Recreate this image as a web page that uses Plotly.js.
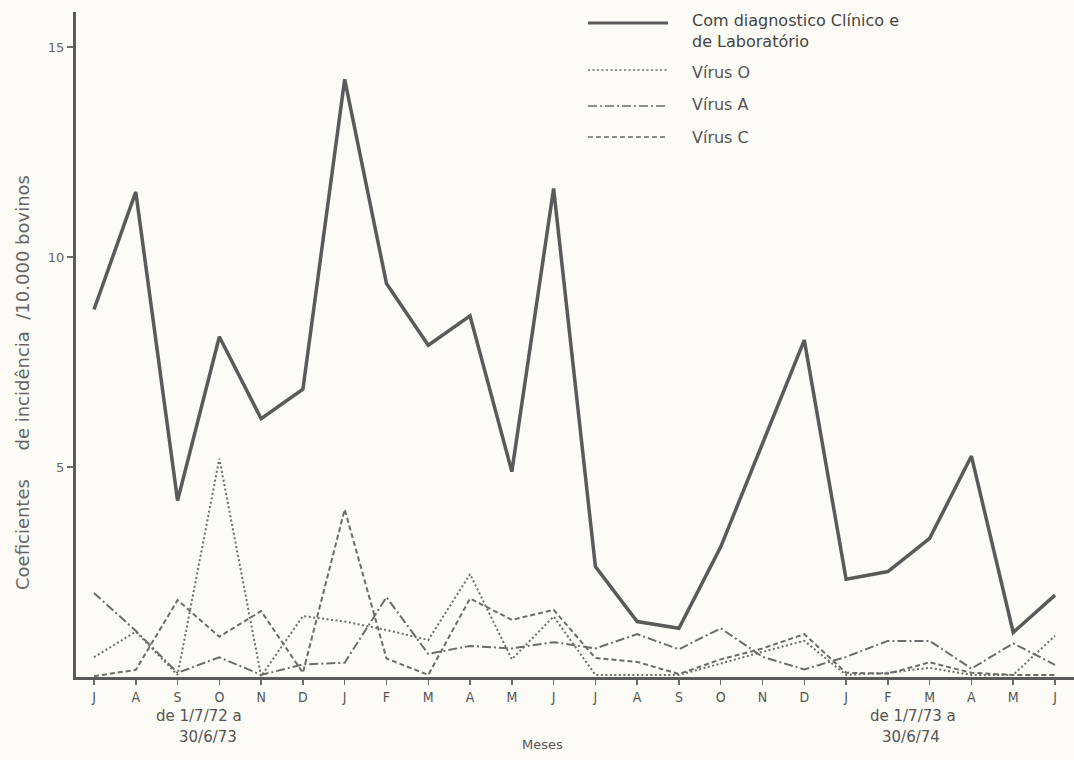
<!DOCTYPE html>
<html>
<head>
<meta charset="utf-8">
<script src="https://cdn.plot.ly/plotly-3.0.1.min.js"></script>
<style>html,body{margin:0;padding:0;background:#fcfbf6;}#chart{width:1074px;height:760px;}</style>
</head>
<body>
<div id="chart"></div>
<script>
// Months (1/7/72 to 30/6/74)
const months = ["J","A","S","O","N","D","J","F","M","A","M","J","J","A","S","O","N","D","J","F","M","A","M","J"];
// Coeficientes de incidência / 10.000 bovinos
const clinicoLab = [8.75, 11.55, 4.2, 8.1, 6.15, 6.85, 14.23, 9.37, 7.9, 8.6, 4.89, 11.63, 2.63, 1.32, 1.16, 3.1, 5.56, 8.02, 2.33, 2.51, 3.3, 5.26, 1.06, 1.95];
const virusO = [0.47, 1.08, 0.05, 5.2, 0.02, 1.45, 1.32, 1.12, 0.88, 2.45, 0.42, 1.44, 0.05, 0.05, 0.05, 0.32, 0.6, 0.86, 0.05, 0.1, 0.22, 0.05, 0.05, 0.98];
const virusA = [2.0, 1.1, 0.1, 0.47, 0.05, 0.3, 0.34, 1.9, 0.55, 0.74, 0.68, 0.83, 0.68, 1.02, 0.66, 1.16, 0.48, 0.18, 0.48, 0.86, 0.86, 0.2, 0.8, 0.29];
const virusC = [0.02, 0.17, 1.83, 0.96, 1.57, 0.1, 3.99, 0.44, 0.05, 1.87, 1.36, 1.6, 0.45, 0.36, 0.07, 0.42, 0.68, 1.02, 0.1, 0.08, 0.35, 0.1, 0.05, 0.05];
const yTicks = [5, 10, 15];
const seriesNames = ["Com diagnostico Clínico e<br>de Laboratório", "Vírus O", "Vírus A", "Vírus C"];

const idx = months.map((m, i) => i);
const ink = "#5a5a5a";
const thin = "#6c6c6c";

const traces = [
  {x: idx, y: clinicoLab, mode: "lines", name: seriesNames[0], line: {color: ink, width: 3.5}},
  {x: idx, y: virusO, mode: "lines", name: seriesNames[1], line: {color: thin, width: 2, dash: "2px,2.5px"}},
  {x: idx, y: virusA, mode: "lines", name: seriesNames[2], line: {color: thin, width: 2, dash: "9px,3px,2px,3px"}},
  {x: idx, y: virusC, mode: "lines", name: seriesNames[3], line: {color: thin, width: 2, dash: "5px,3px"}}
];

// plot-area pixel helpers for layout placement
const L = 76, T = 12, W = 998, H = 665;
const px = x => (x - L) / W;
const py = y => (T + H - y) / H;

const fontFam = "DejaVu Sans, Liberation Sans, sans-serif";
const annotations = [];
const shapes = [];
function addText(text, x, y, size, color, opts) {
  annotations.push(Object.assign({text: text, xref: "paper", yref: "paper", x: px(x), y: py(y),
    showarrow: false, font: {family: fontFam, size: size, color: color}}, opts || {}));
}
// legend
const legY = [23, 70, 106, 137];
const legTextY = [31, 72, 105, 137];
const legDash = ["solid", "2px,2.5px", "9px,3px,2px,3px", "5px,3px"];
for (let i = 0; i < 4; i++) {
  shapes.push({type: "line", xref: "paper", yref: "paper", x0: px(588), x1: px(668), y0: py(legY[i]), y1: py(legY[i]),
    line: {color: i === 0 ? ink : thin, width: i === 0 ? 3 : 1.6, dash: legDash[i]}});
  addText(seriesNames[i], 690, legTextY[i], 16, i === 0 ? "#444" : "#555", {xanchor: "left", yanchor: "middle", align: "left"});
}
// axis texts
addText("Coeficientes\u00a0\u00a0\u00a0\u00a0 de incidência\u00a0 /10.000 bovinos", 22, 383, 18, "#666", {textangle: -90, xanchor: "center", yanchor: "middle"});
addText("de 1/7/72 a", 199, 716, 15, "#555", {xanchor: "center", yanchor: "middle"});
addText("30/6/73", 208, 737, 15, "#555", {xanchor: "center", yanchor: "middle"});
addText("Meses", 542, 745, 13, "#555", {xanchor: "center", yanchor: "middle"});
addText("de 1/7/73 a", 913, 716, 15, "#555", {xanchor: "center", yanchor: "middle"});
addText("30/6/74", 911, 737, 15, "#555", {xanchor: "center", yanchor: "middle"});

const x0 = 94, x23 = 1055, u = (x23 - x0) / 23;
const layout = {
  width: 1074, height: 760,
  margin: {l: L, r: 0, t: T, b: 760 - T - H, pad: 0},
  paper_bgcolor: "#fcfbf6", plot_bgcolor: "#fcfbf6",
  showlegend: false,
  xaxis: {
    range: [(L - x0) / u, 23 + (1074 - x23) / u],
    tickmode: "array", tickvals: idx, ticktext: months,
    showline: true, linecolor: ink, linewidth: 3, mirror: false,
    ticks: "outside", ticklen: 5, tickwidth: 1.5, tickcolor: thin,
    showgrid: false, zeroline: false,
    tickfont: {family: "DejaVu Sans Condensed, DejaVu Sans, sans-serif", size: 14, color: "#555"}
  },
  yaxis: {
    range: [0, H / 42],
    tickmode: "array", tickvals: yTicks, ticktext: yTicks.map(String),
    showline: true, linecolor: ink, linewidth: 3,
    ticks: "outside", ticklen: 6, tickwidth: 1.5, tickcolor: thin,
    showgrid: false, zeroline: false,
    tickfont: {family: fontFam, size: 13, color: "#666"}
  },
  annotations: annotations,
  shapes: shapes
};
Plotly.newPlot("chart", traces, layout, {displayModeBar: false, staticPlot: true});
</script>
</body>
</html>
